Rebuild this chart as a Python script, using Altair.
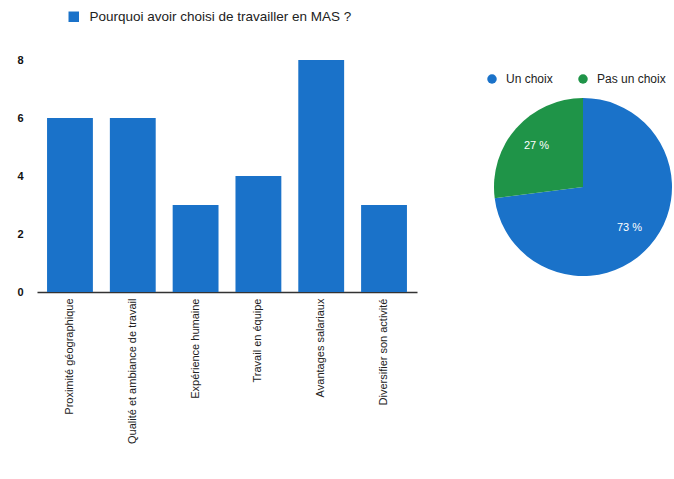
import altair as alt
import pandas as pd

categories = [
    "Proximité géographique",
    "Qualité et ambiance de travail",
    "Expérience humaine",
    "Travail en équipe",
    "Avantages salariaux",
    "Diversifier son activité",
]
counts = [6, 6, 3, 4, 8, 3]
series_name = "Pourquoi avoir choisi de travailler en MAS ?"

pie_labels = ["Un choix", "Pas un choix"]
pie_values = [73, 27]
pie_text = ["73 %", "27 %"]

BLUE = "#1a72c9"
GREEN = "#1f9448"
FONT = "Liberation Sans"

bar_df = pd.DataFrame({"cat": categories, "n": counts, "s": [series_name] * len(categories)})
pie_df = pd.DataFrame({"label": pie_labels, "value": pie_values, "txt": pie_text,
                       "order": list(range(len(pie_labels)))})

bars = alt.Chart(bar_df).mark_bar().encode(
    x=alt.X("cat:N", sort=categories, title=None,
            scale=alt.Scale(paddingInner=0.27, paddingOuter=0.16),
            axis=alt.Axis(labelAngle=-90, ticks=False, domainColor="#333333",
                          domainWidth=1.5, labelFontSize=11, labelColor="#222222",
                          labelPadding=6, labelFont=FONT, labelLimit=300)),
    y=alt.Y("n:Q", title=None, scale=alt.Scale(domain=[0, 8]),
            axis=alt.Axis(values=[0, 2, 4, 6, 8], grid=False, domain=False, ticks=False,
                          labelPadding=14, labelFontSize=11, labelColor="#111111",
                          labelFont=FONT, labelFontWeight="bold")),
    color=alt.Color("s:N", scale=alt.Scale(domain=[series_name], range=[BLUE]),
                    legend=alt.Legend(orient="none", legendX=30, legendY=-50, title=None,
                                      symbolType="square", symbolSize=110,
                                      symbolStrokeWidth=0, labelFontSize=13.5,
                                      labelFont=FONT, labelColor="#222222",
                                      labelOffset=9, labelLimit=400)),
).properties(width=380, height=232)

base = alt.Chart(pie_df).encode(
    theta=alt.Theta("value:Q", stack=True),
    order=alt.Order("order:Q"),
)
arcs = base.mark_arc(strokeWidth=0).encode(
    color=alt.Color("label:N", scale=alt.Scale(domain=pie_labels, range=[BLUE, GREEN]),
                    legend=alt.Legend(orient="none", legendX=-8, legendY=13, title=None,
                                      direction="horizontal", symbolType="circle",
                                      symbolSize=90, symbolStrokeWidth=0,
                                      labelFontSize=12, labelFont=FONT,
                                      labelColor="#222222", columnPadding=24,
                                      labelOffset=8)),
)
texts = base.mark_text(radius=62, fontSize=11, color="white", font=FONT).encode(
    text="txt:N"
)
pie = alt.layer(arcs, texts).properties(width=178, height=254)

chart = alt.hconcat(bars, pie, spacing=77, bounds="flush").resolve_scale(
    color="independent"
).properties(
    padding={"left": 16, "top": 10, "right": 0, "bottom": 0}
).configure(
    font=FONT, background="white",
    view=alt.ViewConfig(stroke="transparent", strokeWidth=0),
)

chart.save("out.html", embed_options={"renderer": "svg", "actions": False})
